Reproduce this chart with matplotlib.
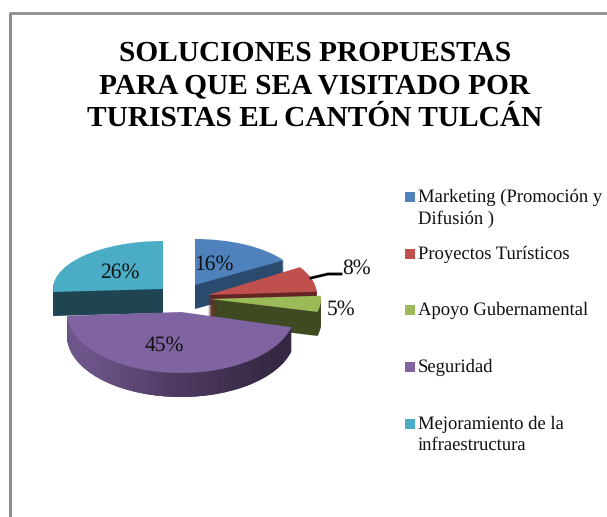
import numpy as np
import matplotlib
matplotlib.use("Agg")
import matplotlib.pyplot as plt
from matplotlib.colors import LinearSegmentedColormap
from matplotlib.patches import Rectangle
from matplotlib.transforms import Affine2D

titulo = "SOLUCIONES PROPUESTAS\nPARA QUE SEA VISITADO POR\nTURISTAS EL CANTÓN TULCÁN"
categorias = ["Marketing (Promoción y\nDifusión )", "Proyectos Turísticos", "Apoyo Gubernamental",
              "Seguridad", "Mejoramiento de la\ninfraestructura"]
valores = [16, 8, 5, 45, 26]

colores = ["#4f81bd", "#c0504d", "#9bbb59", "#8064a2", "#4bacc6"]
colores_pared = ["#2a4a6e", "#632523", "#3f4a22", "#4d3a60", "#1f4552"]

# Lage der Stuecke in Pixeln: Spitze (x, y) und Radien
spitzen = [(195, 285), (208, 295), (210, 299), (181, 312), (163, 289)]
radien = [(105, 46), (109, 52), (111, 52), (114, 61), (110, 48)]
orden = [1, 2, 3, 4, 0]  # hinten nach vorne
tiefe = 24
pos_etiquetas = [(214, 264), (357, 268), (341, 309), (164, 345), (120, 272)]
legend_y = [197, 254, 310, 367, 424]

plt.rcParams["font.family"] = ["Liberation Serif", "DejaVu Serif"]
plt.rcParams["text.hinting"] = "no_hinting"

fig = plt.figure(figsize=(6.07, 5.17), dpi=100)
ax = fig.add_axes([0, 0, 1, 1])

degradado = LinearSegmentedColormap.from_list("pared", ["#7f639f", "#4d3a60", "#2c2238"])
gradiente = np.linspace(0, 1, 256).reshape(1, -1)


# Zeichnet eine Schicht der Torte, d = Abstand nach unten in Pixeln
def zeichne_schicht(d, farben, z):
    wedges, _ = ax.pie(valores, colors=farben, startangle=90, counterclock=False,
                       wedgeprops={"linewidth": 0})
    for i, w in enumerate(wedges):
        x, y = spitzen[i]
        rx, ry = radien[i]
        w.set_transform(Affine2D().scale(rx, -ry).translate(x, y + d) + ax.transData)
        w.set_zorder(orden[i] * 100 + z)
    return wedges


# Seitenwaende von unten nach oben, danach die Deckflaeche
for d in range(tiefe, 0, -1):
    wedges = zeichne_schicht(d, colores_pared, tiefe - d)
    im = ax.imshow(gradiente, cmap=degradado, extent=(67, 295, 420, 300), aspect="auto",
                   zorder=orden[3] * 100 + tiefe - d + 0.5)
    im.set_clip_path(wedges[3])
zeichne_schicht(0, colores, tiefe + 1)

for v, (x, y) in zip(valores, pos_etiquetas):
    ax.text(x, y, f"{v}%", fontsize=15.5, ha="center", va="center", color="#111111", zorder=1000)

# Fuehrungslinie zum 8%
ax.plot([311, 328, 341], [278, 274, 274], color="black", linewidth=2, zorder=900)

# Legende
for c, nombre, y in zip(colores, categorias, legend_y):
    ax.add_patch(Rectangle((405, y - 5), 10, 10, facecolor=c, edgecolor="none"))
    ax.text(418, y - 8.5, nombre, fontsize=13.4, ha="left", va="top", color="#111111", linespacing=1.33)

ax.text(315, 86, titulo, fontsize=21.2, fontweight="bold", ha="center", va="center",
        color="black", linespacing=1.31)

# Rahmen oben und links
ax.plot([9.7, 9.7], [517, 12.5], color="#8e8e8e", linewidth=2.2, solid_capstyle="butt")
ax.plot([8.6, 607], [12.5, 12.5], color="#8e8e8e", linewidth=2, solid_capstyle="butt")

ax.set_aspect("auto")
ax.set_xlim(0, 607)
ax.set_ylim(517, 0)
ax.axis("off")

fig.savefig("out.png", dpi=100, facecolor="white")
